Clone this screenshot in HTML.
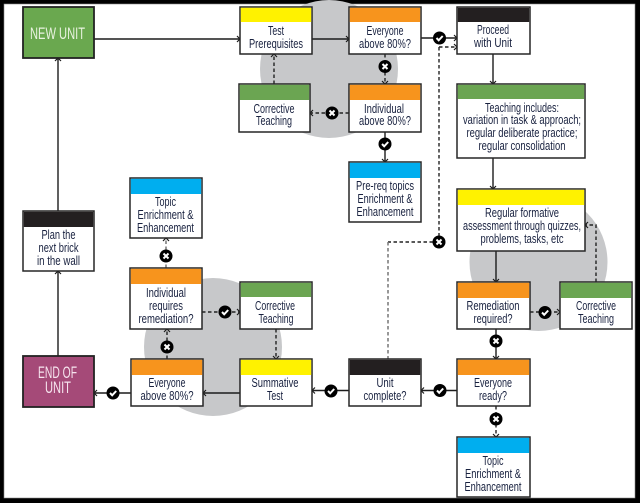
<!DOCTYPE html>
<html><head><meta charset="utf-8"><style>
html,body{margin:0;padding:0;background:#fff}
svg{display:block}
text{font-family:"Liberation Sans Narrow","Liberation Sans",sans-serif;font-size:13.2px;fill:#18213f;text-anchor:middle}
.b{fill:#fff;stroke:#262626;stroke-width:1.5}
.l{stroke:#1c1c1c;stroke-width:1.4;fill:none}
.d{stroke:#222;stroke-width:1.4;fill:none;stroke-dasharray:3.5 2.5}
.g{stroke:#777;stroke-width:1.5;fill:none;stroke-dasharray:3.5 2.5}
.a{stroke:#1c1c1c;stroke-width:1.2;fill:none}
.c{stroke:#fff;stroke-width:2;fill:none}
</style></head><body>
<svg width="640" height="503" viewBox="0 0 640 503" xmlns="http://www.w3.org/2000/svg">
<rect width="640" height="503" fill="#000"/>
<rect x="4" y="4" width="631" height="494" fill="#fff" stroke="#888" stroke-width="0.6"/>
<circle cx="329" cy="69" r="69" fill="#c7c8ca"/>
<circle cx="538.5" cy="262" r="69" fill="#c7c8ca"/>
<circle cx="213" cy="347" r="69" fill="#c7c8ca"/>

<!-- connectors -->
<path class="l" d="M94 39H240M312 39H349M421 38H457M58 211V58M58 356V271M385 132V162M493 54V84M493 158V189M496 251V282M496 329V359M457 390.5H421M349 390.5H312M240 393H203M131 393H94"/>
<path class="d" d="M439 47H457M385 54V84M349 113H310M274 84V54M530 312H560M596 282V225H585M496 406V437M167 359V329M202 312H240M276 329V359"/>
<path class="d" d="M439 47V236M433 242H388"/>
<path class="g" d="M388 242V359M166 268V238"/>
<!-- arrowheads -->
<path class="a" d="M237 36l3 3-3 3M346 36l3 3-3 3M454 35l3 3-3 3M454 44l3 3-3 3M55 61l3-3 3 3M55 274l3-3 3 3M382 159l3 3 3-3M490 81l3 3 3-3M490 186l3 3 3-3M493 279l3 3 3-3M493 356l3 3 3-3M424 387.5l-3 3 3 3M315 387.5l-3 3 3 3M206 390l-3 3 3 3M97 390l-3 3 3 3M382 81l3 3 3-3M313 110l-3 3 3 3M271 57l3-3 3 3M557 309l3 3-3 3M588 222l-3 3 3 3M493 434l3 3 3-3M164 332l3-3 3 3M163 241l3-3 3 3M237 309l3 3-3 3M273 356l3 3 3-3"/>

<!-- boxes -->
<rect x="23" y="7" width="71" height="51" fill="#6aa84f" stroke="#222" stroke-width="1.8"/>
<rect x="23" y="356" width="71" height="51" fill="#a54a78" stroke="#222" stroke-width="1.8"/>

<rect class="b" x="240" y="7" width="72" height="47"/><rect x="240.8" y="7.800" width="70.4" height="14.2" fill="#fff200"/>
<rect class="b" x="239" y="84" width="71" height="48"/><rect x="239.8" y="84.800" width="69.4" height="15.2" fill="#6ba552"/>
<rect class="b" x="349" y="7" width="72" height="47"/><rect x="349.8" y="7.800" width="70.4" height="14.2" fill="#f7941d"/>
<rect class="b" x="349" y="84" width="72" height="48"/><rect x="349.8" y="84.800" width="70.4" height="15.2" fill="#f7941d"/>
<rect class="b" x="457" y="7" width="73" height="47"/><rect x="457.8" y="7.800" width="71.4" height="14.2" fill="#231f20"/>
<rect class="b" x="349" y="162" width="72" height="60"/><rect x="349.8" y="162.800" width="70.4" height="15.2" fill="#00aeef"/>
<rect class="b" x="457" y="84" width="128" height="74"/><rect x="457.8" y="84.800" width="126.4" height="14.2" fill="#6ba552"/>
<rect class="b" x="457" y="189" width="128" height="62"/><rect x="457.8" y="189.800" width="126.4" height="15.2" fill="#fff200"/>
<rect class="b" x="457" y="282" width="73" height="47"/><rect x="457.8" y="282.800" width="71.4" height="15.2" fill="#f7941d"/>
<rect class="b" x="560" y="282" width="72" height="47"/><rect x="560.8" y="282.800" width="70.4" height="15.2" fill="#6ba552"/>
<rect class="b" x="457" y="359" width="73" height="47"/><rect x="457.8" y="359.800" width="71.4" height="15.2" fill="#f7941d"/>
<rect class="b" x="457" y="437" width="73" height="60"/><rect x="457.8" y="437.800" width="71.4" height="15.2" fill="#00aeef"/>
<rect class="b" x="349" y="359" width="72" height="47"/><rect x="349.8" y="359.800" width="70.4" height="15.2" fill="#231f20"/>
<rect class="b" x="240" y="359" width="72" height="47"/><rect x="240.8" y="359.800" width="70.4" height="15.2" fill="#fff200"/>
<rect class="b" x="131" y="359" width="72" height="47"/><rect x="131.8" y="359.800" width="70.4" height="15.2" fill="#f7941d"/>
<rect class="b" x="130" y="268" width="72" height="61"/><rect x="130.8" y="268.800" width="70.4" height="15.2" fill="#f7941d"/>
<rect class="b" x="240" y="282" width="72" height="47"/><rect x="240.8" y="282.800" width="70.4" height="14.2" fill="#6ba552"/>
<rect class="b" x="130" y="178" width="72" height="60"/><rect x="130.8" y="178.800" width="70.4" height="15.2" fill="#00aeef"/>
<rect class="b" x="23" y="211" width="71" height="60"/><rect x="23.8" y="211.800" width="69.4" height="15.2" fill="#231f20"/>

<!-- badges -->
<g>
<circle cx="439.5" cy="38" r="6.5"/><path class="c" d="M436.5 38l2.2 2.3 4-4.3"/>
<circle cx="385" cy="144" r="6.5"/><path class="c" d="M382 144l2.2 2.3 4-4.3"/>
<circle cx="545" cy="312.5" r="6.5"/><path class="c" d="M542 312.5l2.2 2.3 4-4.3"/>
<circle cx="225" cy="312" r="6.5"/><path class="c" d="M222 312l2.2 2.3 4-4.3"/>
<circle cx="440" cy="390.5" r="6.5"/><path class="c" d="M437 390.5l2.2 2.3 4-4.3"/>
<circle cx="331" cy="391" r="6.5"/><path class="c" d="M328 391l2.2 2.3 4-4.3"/>
<circle cx="113" cy="393" r="6.5"/><path class="c" d="M110 393l2.2 2.3 4-4.3"/>
<circle cx="385" cy="66.5" r="6.5"/><path class="c" d="M382.5 64l5 5m0-5l-5 5"/>
<circle cx="332" cy="113" r="6.5"/><path class="c" d="M329.5 110.5l5 5m0-5l-5 5"/>
<circle cx="439" cy="242" r="6.5"/><path class="c" d="M436.5 239.5l5 5m0-5l-5 5"/>
<circle cx="496" cy="341" r="6.5"/><path class="c" d="M493.5 338.5l5 5m0-5l-5 5"/>
<circle cx="496" cy="419" r="6.5"/><path class="c" d="M493.5 416.5l5 5m0-5l-5 5"/>
<circle cx="167" cy="347" r="6.5"/><path class="c" d="M164.5 344.5l5 5m0-5l-5 5"/>
<circle cx="166" cy="256" r="6.5"/><path class="c" d="M163.5 253.5l5 5m0-5l-5 5"/>
</g>

<!-- labels -->
<text x="57.5" y="39" style="font-size:17px;fill:#e8f2df" textLength="55" lengthAdjust="spacingAndGlyphs">NEW UNIT</text>
<text x="57.5" y="378" style="font-size:17px;fill:#f6e4ee" textLength="39" lengthAdjust="spacingAndGlyphs">END OF</text>
<text x="58" y="393" style="font-size:17px;fill:#f6e4ee" textLength="26" lengthAdjust="spacingAndGlyphs">UNIT</text>

<text x="276" y="35" textLength="16" lengthAdjust="spacingAndGlyphs">Test</text>
<text x="276" y="48" textLength="54" lengthAdjust="spacingAndGlyphs">Prerequisites</text>
<text x="274" y="113" textLength="41" lengthAdjust="spacingAndGlyphs">Corrective</text>
<text x="274" y="125" textLength="36" lengthAdjust="spacingAndGlyphs">Teaching</text>
<text x="385" y="35" textLength="37" lengthAdjust="spacingAndGlyphs">Everyone</text>
<text x="385" y="48" textLength="52" lengthAdjust="spacingAndGlyphs">above 80%?</text>
<text x="384" y="113" textLength="40" lengthAdjust="spacingAndGlyphs">Individual</text>
<text x="385" y="125" textLength="52" lengthAdjust="spacingAndGlyphs">above 80%?</text>
<text x="493" y="34" textLength="32" lengthAdjust="spacingAndGlyphs">Proceed</text>
<text x="493" y="47" textLength="38" lengthAdjust="spacingAndGlyphs">with Unit</text>
<text x="385" y="190" textLength="58" lengthAdjust="spacingAndGlyphs">Pre-req topics</text>
<text x="385" y="203" textLength="55" lengthAdjust="spacingAndGlyphs">Enrichment &amp;</text>
<text x="385" y="216" textLength="57" lengthAdjust="spacingAndGlyphs">Enhancement</text>
<text x="522" y="112" textLength="74" lengthAdjust="spacingAndGlyphs">Teaching includes:</text>
<text x="522" y="124" textLength="118" lengthAdjust="spacingAndGlyphs">variation in task &amp; approach;</text>
<text x="522" y="137" textLength="111" lengthAdjust="spacingAndGlyphs">regular deliberate practice;</text>
<text x="522" y="150" textLength="87" lengthAdjust="spacingAndGlyphs">regular consolidation</text>
<text x="522" y="217" textLength="74" lengthAdjust="spacingAndGlyphs">Regular formative</text>
<text x="522" y="230" textLength="118" lengthAdjust="spacingAndGlyphs">assessment through quizzes,</text>
<text x="522" y="243" textLength="83" lengthAdjust="spacingAndGlyphs">problems, tasks, etc</text>
<text x="493" y="310" textLength="53" lengthAdjust="spacingAndGlyphs">Remediation</text>
<text x="493" y="323" textLength="39" lengthAdjust="spacingAndGlyphs">required?</text>
<text x="596" y="310" textLength="40" lengthAdjust="spacingAndGlyphs">Corrective</text>
<text x="596" y="323" textLength="36" lengthAdjust="spacingAndGlyphs">Teaching</text>
<text x="493" y="387" textLength="38" lengthAdjust="spacingAndGlyphs">Everyone</text>
<text x="493" y="400" textLength="28" lengthAdjust="spacingAndGlyphs">ready?</text>
<text x="493" y="465" textLength="21" lengthAdjust="spacingAndGlyphs">Topic</text>
<text x="493" y="478" textLength="56" lengthAdjust="spacingAndGlyphs">Enrichment &amp;</text>
<text x="493" y="491" textLength="57" lengthAdjust="spacingAndGlyphs">Enhancement</text>
<text x="385" y="387" textLength="17" lengthAdjust="spacingAndGlyphs">Unit</text>
<text x="385" y="400" textLength="43" lengthAdjust="spacingAndGlyphs">complete?</text>
<text x="275" y="387" textLength="47" lengthAdjust="spacingAndGlyphs">Summative</text>
<text x="275" y="400" textLength="16" lengthAdjust="spacingAndGlyphs">Test</text>
<text x="167" y="387" textLength="37" lengthAdjust="spacingAndGlyphs">Everyone</text>
<text x="167" y="400" textLength="53" lengthAdjust="spacingAndGlyphs">above 80%?</text>
<text x="166" y="297" textLength="40" lengthAdjust="spacingAndGlyphs">Individual</text>
<text x="166" y="310" textLength="34" lengthAdjust="spacingAndGlyphs">requires</text>
<text x="166" y="323" textLength="55" lengthAdjust="spacingAndGlyphs">remediation?</text>
<text x="275" y="310" textLength="40" lengthAdjust="spacingAndGlyphs">Corrective</text>
<text x="276" y="323" textLength="35" lengthAdjust="spacingAndGlyphs">Teaching</text>
<text x="165.5" y="206" textLength="21" lengthAdjust="spacingAndGlyphs">Topic</text>
<text x="165.5" y="219" textLength="56" lengthAdjust="spacingAndGlyphs">Enrichment &amp;</text>
<text x="165.5" y="232" textLength="57" lengthAdjust="spacingAndGlyphs">Enhancement</text>
<text x="58.5" y="239" textLength="34" lengthAdjust="spacingAndGlyphs">Plan the</text>
<text x="58.5" y="252" textLength="40" lengthAdjust="spacingAndGlyphs">next brick</text>
<text x="58.5" y="265" textLength="43" lengthAdjust="spacingAndGlyphs">in the wall</text>
</svg>
</body></html>
